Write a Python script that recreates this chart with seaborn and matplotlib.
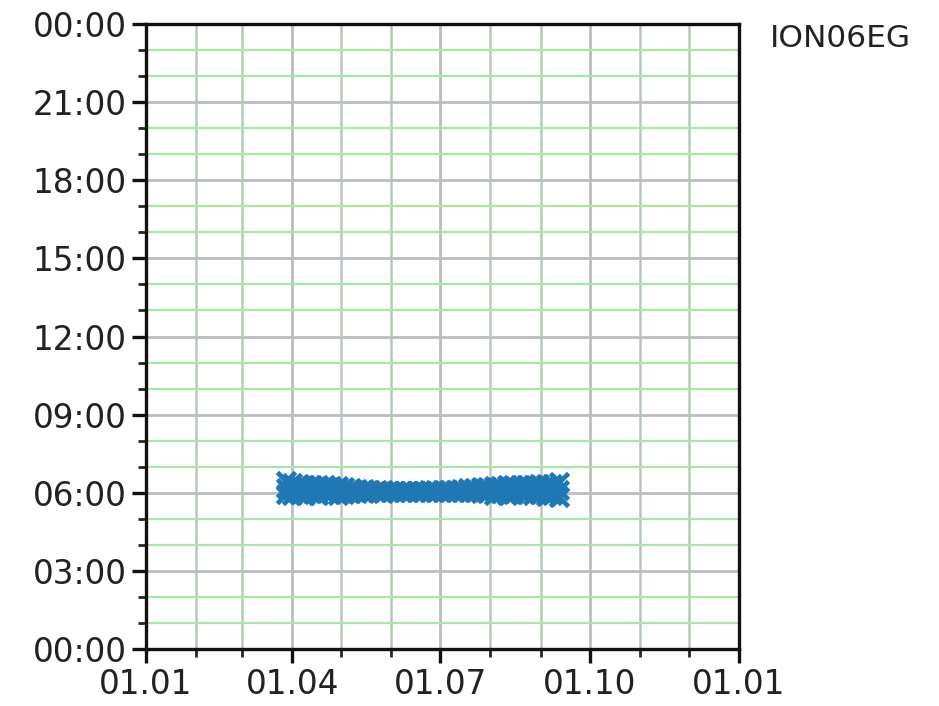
import matplotlib
matplotlib.use("Agg")
import matplotlib.pyplot as plt
import matplotlib.dates as mdates
from matplotlib.ticker import MultipleLocator, FuncFormatter
import numpy as np
import pandas as pd
import seaborn as sns

# ---- data ----
station = "ION06EG"
dates = pd.date_range("2021-03-28", "2021-09-12", freq="4D")  # 43 sample dates
# minutes after 06:00 for the upper, middle and lower edge of the band
upper_min = [27, 22, 20, 18, 18, 17, 17, 16, 15, 13, 11, 9, 8, 7, 6, 6, 5, 5, 5, 5, 5, 5,
             6, 6, 6, 6, 7, 8, 10, 12, 13, 14, 15, 16, 17, 18, 18, 19, 19, 20, 20, 21, 24]
middle_min = [12, 9, 9, 7, 8, 6, 7, 6, 5, 5, 5, 4, 4, 4, 3, 3, 3, 3, 3, 3, 3, 3,
              3, 3, 3, 3, 4, 4, 5, 6, 6, 7, 6, 7, 6, 8, 8, 8, 7, 9, 6, 8, 7]
lower_min = [-3, -6, -2, -5, -1, -6, -1, -3, -5, -2, 0, -1, 0, 1, 1, 0, 1, 1, 1, 1, 1, 1,
             1, 1, 1, 1, 1, 1, 1, 1, 0, 0, -4, -1, -5, -2, -1, -3, -6, -2, -8, -4, -9]

base_hour = 6.0
df = pd.concat([
    pd.DataFrame({"date": dates, "hour": base_hour + np.array(v) / 60.0})
    for v in (upper_min, middle_min, lower_min)
], ignore_index=True)

# ---- figure ----
sns.set_style("ticks")
plt.rcParams["font.family"] = ["DejaVu Sans"]
fig = plt.figure(figsize=(9.39, 7.06), dpi=100)
ax = fig.add_axes([0.1555, 0.0807, 0.6315, 0.8853])

sns.scatterplot(data=df, x="date", y="hour", marker="x", s=170, linewidth=3.4,
                color="#1f77b4", ax=ax, legend=False, zorder=3)

ax.set_xlim(pd.Timestamp("2021-01-01"), pd.Timestamp("2022-01-01"))
ax.set_ylim(0, 24)

ax.xaxis.set_major_locator(mdates.MonthLocator(bymonth=[1, 4, 7, 10]))
ax.xaxis.set_minor_locator(mdates.MonthLocator())
ax.xaxis.set_major_formatter(mdates.DateFormatter("%d.%m"))

ax.yaxis.set_major_locator(MultipleLocator(3))
ax.yaxis.set_minor_locator(MultipleLocator(1))
ax.yaxis.set_major_formatter(FuncFormatter(lambda v, p: f"{int(round(v)) % 24:02d}:00"))

ax.grid(which="major", axis="both", color="#bdbdbd", linewidth=2.0, zorder=0)
ax.grid(which="minor", axis="y", color="#a6e8a6", linewidth=1.6, zorder=0)
ax.grid(which="minor", axis="x", color="#b6cab6", linewidth=1.8, zorder=0)
ax.set_axisbelow(True)

for s in ax.spines.values():
    s.set_linewidth(2.4)
    s.set_color("#111111")
ax.tick_params(which="major", length=10, width=2.4, pad=4, labelsize=23.5,
               colors="#111111", labelcolor="#222222")
ax.tick_params(which="minor", length=6, width=2.0)
ax.set_xlabel("")
ax.set_ylabel("")

fig.text(0.82, 0.946, station, fontsize=22.5, va="center", ha="left", color="#222222")

fig.savefig("out.png", dpi=100)
